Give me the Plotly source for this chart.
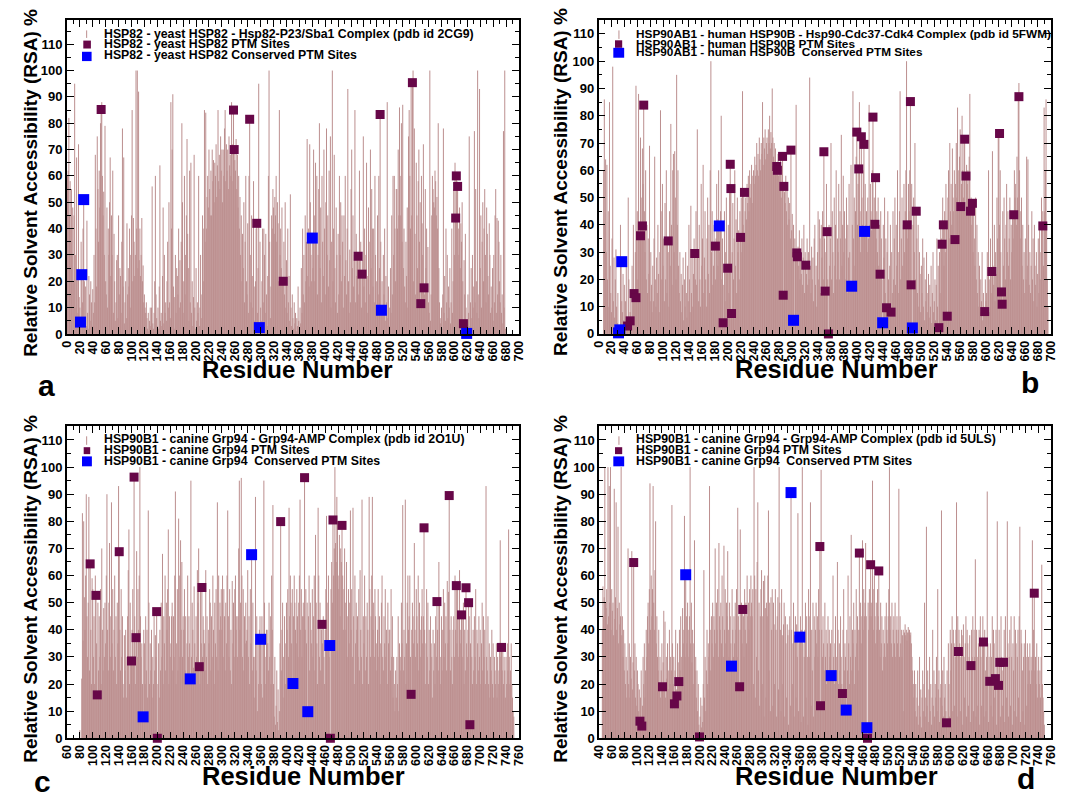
import plotly.graph_objects as go

W, H = 1077, 803
FONT = "Liberation Sans"
BAR_COLOR = "rgb(188,143,143)"
PTM_COLOR = "rgb(103,7,72)"
CONS_COLOR = "rgb(0,0,255)"

# ---------------- panel a : yeast HSP82 (2CG9) ----------------
A_START = 1
A_RSA = [
    60, 62, 82, 45, 58, 40, 55, 30, 48, 20,
    45, 95, 30, 10, 67, 22, 8, 72, 14, 10,
    5, 35, 22, 12, 40, 51, 20, 6, 18, 3,
    43, 8, 2, 22, 15, 5, 20, 12, 3, 17,
    8, 30, 12, 68, 40, 18, 75, 55, 35, 62,
    48, 80, 85, 88, 60, 45, 54, 30, 79, 20,
    15, 48, 10, 40, 30, 50, 67, 22, 45, 30,
    62, 8, 38, 20, 5, 12, 28, 30, 6, 45,
    15, 25, 22, 8, 35, 78, 18, 67, 4, 12,
    20, 6, 42, 15, 25, 18, 40, 30, 10, 45,
    85, 20, 44, 35, 22, 30, 100, 40, 100, 25,
    92, 28, 40, 22, 30, 44, 20, 26, 12, 15,
    10, 8, 12, 6, 2, 8, 1, 5, 10, 3,
    10, 56, 4, 2, 8, 20, 60, 15, 6, 3,
    10, 2, 18, 64, 5, 8, 3, 22, 48, 4,
    30, 8, 12, 5, 20, 35, 10, 50, 12, 6,
    88, 40, 70, 91, 18, 2, 14, 30, 8, 25,
    22, 15, 40, 10, 28, 12, 35, 80, 50, 8,
    20, 60, 15, 30, 45, 74, 38, 25, 5, 62,
    12, 65, 8, 20, 3, 14, 68, 10, 2, 25,
    5, 12, 8, 60, 3, 10, 30, 6, 15, 45,
    40, 20, 85, 35, 84, 40, 52, 60, 48, 70,
    55, 45, 62, 45, 70, 58, 66, 50, 65, 60,
    72, 52, 64, 85, 58, 68, 55, 75, 62, 70,
    50, 70, 60, 78, 85, 58, 72, 62, 70, 55,
    75, 64, 68, 60, 88, 72, 58, 85, 70, 66,
    62, 74, 55, 68, 48, 60, 40, 52, 30, 45,
    20, 38, 25, 50, 12, 35, 60, 20, 15, 42,
    8, 60, 81, 30, 12, 45, 22, 10, 58, 5,
    18, 20, 40, 42, 8, 25, 95, 2, 35, 10,
    5, 20, 40, 12, 40, 30, 8, 38, 15, 3,
    22, 60, 100, 35, 6, 18, 45, 40, 55, 48,
    38, 52, 45, 60, 35, 50, 42, 20, 85, 30,
    40, 25, 48, 20, 20, 35, 15, 50, 10, 28,
    8, 40, 12, 22, 5, 53, 10, 3, 15, 6,
    2, 12, 4, 8, 1, 6, 3, 18, 5, 2,
    10, 4, 25, 8, 40, 15, 30, 12, 45, 20,
    35, 74, 22, 40, 18, 72, 50, 30, 20, 36,
    25, 70, 45, 20, 65, 38, 60, 15, 30, 55,
    80, 25, 48, 12, 60, 35, 22, 70, 40, 15,
    50, 78, 30, 45, 18, 62, 28, 75, 10, 35,
    100, 20, 40, 68, 25, 12, 48, 30, 8, 38,
    15, 60, 30, 50, 20, 45, 35, 10, 45, 22,
    60, 28, 15, 40, 93, 20, 8, 32, 12, 55,
    70, 25, 45, 18, 30, 85, 12, 38, 22, 29,
    30, 15, 62, 23, 35, 10, 23, 28, 75, 18,
    40, 12, 30, 65, 22, 8, 48, 35, 15, 70,
    25, 55, 40, 18, 40, 12, 60, 30, 20, 9,
    45, 15, 60, 25, 84, 35, 9, 20, 8, 30,
    15, 40, 5, 22, 12, 88, 6, 18, 3, 10,
    25, 8, 45, 15, 60, 30, 60, 40, 20, 55,
    55, 40, 70, 45, 86, 60, 45, 80, 35, 87,
    25, 40, 18, 12, 35, 22, 48, 10, 75, 85,
    60, 40, 95, 45, 96, 100, 20, 78, 38, 15,
    65, 45, 25, 58, 70, 35, 50, 12, 60, 42,
    30, 72, 18, 15, 55, 25, 40, 18, 33, 12,
    8, 100, 5, 15, 45, 60, 55, 50, 48, 62,
    58, 45, 52, 40, 80, 25, 12, 6, 4, 10,
    2, 15, 78, 8, 22, 5, 40, 12, 30, 6,
    18, 10, 25, 4, 12, 40, 8, 20, 55, 30,
    65, 44, 60, 58, 56, 40, 30, 48, 25, 42,
    35, 50, 20, 4, 28, 15, 38, 10, 0, 5,
    15, 8, 75, 3, 12, 25, 6, 30, 10, 18,
    77, 12, 55, 20, 8, 100, 15, 6, 93, 25,
    45, 10, 35, 50, 20, 40, 55, 30, 12, 48,
    38, 22, 15, 42, 30, 8, 18, 10, 25, 5,
    30, 12, 45, 55, 8, 44, 15, 43, 35, 20,
    12, 30, 8, 15, 4, 77, 10, 100, 2, 0,
]
A_PTM_RES = [53, 258, 259, 283, 294, 335, 451, 457, 485, 535, 548, 553, 602, 603, 605, 614]
A_PTM_VAL = [85.2, 85, 70, 81.5, 42, 20, 29.5, 22.7, 83.3, 95.4, 11.5, 17.5, 44, 60, 56, 3.9]
A_CONS_RES = [21, 23, 26, 298, 380, 487, 619]
A_CONS_VAL = [4.5, 22.5, 51, 2.4, 36.4, 9, 0.2]

# ---------------- panel b : human HSP90B (5FWM) ----------------
B_START = 1
B_RSA = [
    0, 0, 0, 0, 0, 0, 0, 60, 86, 40,
    64, 30, 62, 20, 45, 10, 85, 25, 15, 8,
    35, 98, 12, 28, 6, 20, 31, 10, 4, 15,
    0, 1, 2, 40, 26, 12, 8, 22, 5, 18,
    3, 12, 28, 5, 3, 50, 20, 5, 8, 15,
    6, 25, 15, 40, 12, 13, 30, 91, 36, 45,
    20, 88, 36, 40, 72, 50, 40, 68, 55, 85,
    45, 30, 60, 20, 40, 15, 35, 22, 69, 12,
    30, 18, 8, 25, 12, 35, 65, 20, 10, 28,
    15, 40, 22, 8, 30, 82, 45, 20, 55, 25,
    35, 12, 48, 20, 60, 15, 34, 30, 10, 45,
    25, 77, 40, 18, 60, 66, 30, 67, 50, 20,
    95, 40, 60, 25, 15, 30, 12, 22, 8, 18,
    28, 5, 20, 10, 30, 15, 6, 25, 12, 40,
    20, 8, 47, 15, 30, 10, 22, 35, 29, 20,
    45, 18, 75, 30, 12, 40, 20, 10, 55, 25,
    35, 62, 15, 28, 45, 20, 10, 35, 50, 22,
    40, 15, 60, 100, 30, 45, 18, 25, 40, 32,
    20, 35, 55, 42, 25, 60, 39, 30, 45, 80,
    20, 35, 4, 18, 45, 12, 30, 50, 22, 24,
    40, 15, 55, 62, 53, 8, 30, 48, 20, 35,
    60, 25, 42, 15, 50, 30, 38, 20, 45, 35,
    50, 30, 89, 40, 52, 35, 45, 50, 42, 55,
    48, 58, 45, 60, 50, 55, 62, 48, 58, 60,
    55, 65, 58, 62, 70, 60, 66, 58, 72, 64,
    60, 70, 66, 85, 62, 72, 68, 75, 64, 70,
    72, 66, 75, 70, 80, 68, 74, 70, 90, 72,
    65, 70, 62, 68, 60, 61, 60, 66, 58, 62,
    55, 65, 50, 60, 65, 14, 54, 52, 48, 58,
    45, 55, 40, 50, 42, 48, 35, 67, 38, 44,
    30, 40, 5, 35, 28, 84, 29, 28, 32, 25,
    38, 20, 30, 22, 35, 18, 28, 40, 15, 30,
    25, 22, 35, 18, 30, 20, 94, 25, 15, 32,
    20, 28, 12, 35, 40, 18, 25, 10, 30, 45,
    20, 42, 35, 15, 40, 28, 45, 20, 67, 35,
    16, 30, 55, 38, 20, 0, 40, 25, 35, 70,
    20, 45, 30, 15, 50, 25, 40, 60, 20, 35,
    30, 55, 20, 45, 35, 73, 25, 40, 58, 30,
    45, 20, 35, 50, 15, 40, 28, 55, 30, 18,
    62, 18, 40, 89, 35, 50, 25, 45, 65, 74,
    40, 55, 61, 85, 45, 30, 72, 50, 40, 60,
    70, 38, 55, 40, 45, 30, 50, 35, 84, 40,
    55, 45, 38, 60, 80, 40, 50, 40, 57, 35,
    45, 30, 50, 25, 40, 22, 45, 35, 20, 4,
    40, 28, 50, 15, 35, 10, 30, 45, 20, 8,
    25, 40, 8, 30, 15, 45, 20, 35, 50, 18,
    40, 25, 60, 30, 15, 45, 89, 20, 35, 50,
    25, 40, 55, 30, 45, 60, 100, 40, 35, 55,
    45, 60, 85, 18, 55, 2, 40, 50, 30, 70,
    20, 45, 35, 15, 40, 10, 30, 22, 8, 25,
    15, 35, 10, 28, 5, 20, 12, 30, 8, 15,
    22, 6, 18, 10, 25, 4, 15, 30, 8, 12,
    20, 5, 18, 35, 10, 25, 2, 30, 15, 40,
    35, 33, 50, 40, 25, 45, 30, 55, 40, 7,
    50, 60, 35, 70, 45, 55, 40, 68, 50, 45,
    60, 35, 55, 70, 50, 83, 60, 45, 65, 75,
    47, 55, 80, 60, 50, 70, 71, 45, 58, 62,
    55, 60, 48, 65, 88, 45, 50, 40, 48, 30,
    45, 35, 25, 50, 20, 40, 15, 30, 10, 25,
    8, 20, 12, 30, 5, 15, 10, 8, 20, 12,
    15, 30, 10, 60, 20, 8, 35, 15, 23, 67,
    25, 18, 40, 12, 30, 22, 50, 35, 73, 73,
    40, 60, 30, 15, 11, 45, 25, 50, 35, 20,
    40, 55, 30, 45, 25, 35, 50, 20, 40, 30,
    45, 35, 44, 60, 50, 55, 40, 65, 50, 87,
    92, 60, 45, 35, 50, 25, 40, 20, 30, 15,
    35, 20, 65, 25, 64, 40, 18, 30, 15, 25,
    45, 20, 35, 12, 40, 25, 18, 30, 10, 22,
    35, 15, 40, 20, 30, 50, 40, 45, 25, 83,
    45, 60, 86, 40, 20, 10,
]
B_PTM_RES = [45, 49, 55, 58, 65, 68, 70, 108, 149, 181, 193, 200, 204, 205, 206,
             220, 226, 276, 277, 285, 286, 287, 298, 307, 308, 321, 349, 351, 354, 356,
             400, 403, 407, 411, 425, 428, 429, 436, 446, 453, 478, 483, 484, 492,
             527, 532, 534, 540, 552, 561, 567, 569, 576, 579, 598, 609, 621, 624, 625,
             643, 651, 688]
B_PTM_VAL = [2.9, 4.8, 14.8, 13.3, 36, 39.6, 83.9, 34.1, 29.5, 32.2, 4.1, 24.1, 62.2, 53.3, 7.5,
             35.4, 51.9, 61.4, 60, 65.1, 14.2, 54.1, 67.4, 29.7, 28.3, 25.2, 66.8, 15.7, 37.5, 0,
             74, 60.5, 72.3, 69.5, 79.5, 40.2, 57.3, 21.9, 9.6, 8, 40, 85.2, 18, 45,
             2.3, 32.9, 40, 6.5, 34.6, 46.7, 71.4, 57.9, 45, 47.9, 8.2, 22.9, 73.5, 15.4, 10.9,
             43.7, 87, 39.6]
B_CONS_RES = [31, 33, 36, 187, 302, 392, 412, 440, 486]
B_CONS_VAL = [0.4, 1.5, 26.5, 39.6, 5, 17.5, 37.6, 4.1, 2.2]

# ---------------- panel c : canine Grp94 (2O1U) ----------------
C_START = 80
C_RSA = [
    3, 0, 0, 22, 83, 36, 80, 52, 40, 60,
    90, 45, 30, 50, 89, 25, 64, 40, 20, 59,
    55, 30, 45, 20, 60, 53, 35, 16, 50, 25,
    45, 30, 55, 20, 70, 40, 25, 48, 30, 50,
    35, 60, 90, 40, 25, 50, 72, 30, 45, 87,
    35, 55, 25, 40, 60, 30, 45, 20, 50, 35,
    93, 69, 40, 25, 55, 30, 45, 20, 15, 38,
    25, 40, 15, 30, 45, 62, 77, 20, 50, 28,
    28, 40, 55, 30, 96, 45, 20, 37, 69, 30,
    55, 40, 60, 100, 45, 30, 35, 20, 8, 40,
    35, 20, 45, 25, 40, 15, 84, 50, 20, 35,
    25, 40, 15, 30, 20, 45, 25, 38, 30, 47,
    0, 20, 35, 15, 40, 25, 50, 30, 68, 20,
    45, 35, 60, 25, 50, 40, 55, 77, 20, 45,
    30, 35, 45, 50, 25, 45, 30, 60, 91, 20,
    35, 55, 25, 81, 60, 30, 73, 40, 65, 30,
    45, 40, 55, 25, 45, 20, 35, 60, 30, 45,
    35, 22, 95, 30, 50, 40, 26, 56, 35, 25,
    45, 30, 62, 50, 70, 26, 20, 55, 35, 56,
    30, 45, 40, 35, 25, 62, 30, 45, 20, 40,
    35, 55, 50, 25, 45, 30, 60, 40, 20, 50,
    35, 55, 30, 87, 25, 60, 40, 50, 45, 55,
    40, 60, 30, 55, 45, 25, 50, 35, 60, 84,
    45, 30, 55, 25, 40, 20, 58, 35, 50, 30,
    55, 60, 40, 45, 30, 45, 70, 95, 40, 50,
    96, 60, 30, 55, 25, 45, 35, 50, 36, 40,
    62, 30, 45, 20, 55, 35, 68, 25, 50, 30,
    15, 30, 89, 25, 45, 10, 35, 20, 40, 45,
    37, 20, 45, 15, 35, 95, 50, 30, 20, 40,
    40, 35, 25, 50, 30, 45, 20, 60, 40, 86,
    20, 8, 30, 5, 12, 25, 6, 18, 3, 10,
    35, 80, 25, 40, 50, 30, 15, 45, 20, 35,
    50, 40, 55, 30, 85, 45, 60, 50, 35, 55,
    20, 45, 60, 50, 40, 35, 55, 45, 30, 50,
    60, 88, 40, 55, 30, 45, 50, 45, 96, 40,
    55, 35, 50, 10, 45, 60, 25, 50, 40, 35,
    55, 30, 45, 60, 25, 75, 50, 35, 20, 85,
    60, 30, 50, 25, 40, 42, 35, 45, 30, 20,
    40, 55, 82, 50, 35, 60, 30, 34, 0, 55,
    65, 50, 80, 60, 70, 100, 72, 65, 89, 80,
    60, 55, 75, 45, 70, 65, 78, 60, 40, 55,
    70, 50, 40, 65, 30, 45, 55, 35, 50, 84,
    40, 55, 30, 85, 45, 20, 60, 35, 50, 40,
    45, 30, 55, 25, 62, 40, 30, 88, 20, 45,
    35, 60, 25, 45, 30, 50, 40, 20, 89, 55,
    30, 45, 60, 89, 40, 50, 30, 55, 45, 35,
    25, 40, 55, 30, 45, 20, 35, 50, 60, 30,
    25, 45, 35, 55, 30, 40, 20, 50, 35, 40,
    40, 25, 55, 30, 45, 15, 30, 20, 10, 25,
    15, 30, 20, 45, 10, 35, 25, 30, 50, 35,
    86, 25, 40, 30, 88, 20, 35, 50, 60, 40,
    45, 60, 30, 16, 40, 50, 45, 35, 72, 40,
    30, 55, 45, 35, 60, 25, 50, 40, 30, 45,
    55, 35, 45, 78, 40, 20, 35, 55, 30, 50,
    20, 40, 25, 45, 35, 30, 15, 40, 25, 35,
    20, 45, 30, 50, 40, 25, 65, 50, 20, 30,
    45, 25, 40, 55, 30, 50, 35, 45, 25, 58,
    35, 54, 90, 40, 25, 45, 30, 20, 40, 45,
    30, 60, 40, 56, 35, 55, 30, 45, 62, 40,
    35, 46, 45, 30, 50, 20, 40, 25, 56, 35,
    30, 40, 50, 45, 5, 35, 50, 30, 20, 40,
    25, 45, 30, 55, 20, 40, 35, 25, 45, 30,
    40, 20, 35, 50, 25, 45, 30, 40, 20, 93,
    30, 25, 45, 20, 35, 15, 30, 25, 40, 20,
    35, 15, 30, 25, 20, 35, 15, 30, 20, 25,
    35, 73, 30, 34, 25, 35, 20, 30, 25, 15,
    30, 20, 35, 25, 77, 30, 20, 25, 35, 20,
    15, 10, 8,
]
C_PTM_RES = [96, 105, 107, 141, 160, 164, 167, 199, 200, 265, 269, 391, 428, 455, 468,
             472, 486, 593, 613, 633, 652, 663, 671, 678, 682, 684, 733]
C_PTM_VAL = [64.3, 52.7, 16, 68.8, 28.5, 96.3, 37.1, 46.7, 0, 26.4, 55.6, 79.9, 96.1, 42, 0,
             80.5, 78.5, 16.2, 77.6, 50.4, 89.5, 56.3, 45.5, 55.5, 50, 5, 33.5]
C_CONS_RES = [178, 251, 346, 360, 410, 433, 467]
C_CONS_VAL = [7.9, 21.9, 67.7, 36.5, 20.2, 9.8, 34.2]

# ---------------- panel d : canine Grp94 (5ULS) ----------------
D_START = 45
D_RSA = [
    40, 56, 45, 52, 100, 50, 48, 55, 42, 100,
    45, 93, 50, 100, 40, 55, 47, 50, 38, 92,
    44, 52, 87, 40, 48, 78, 35, 50, 42, 45,
    100, 38, 45, 30, 40, 25, 35, 20, 30, 15,
    25, 70, 20, 35, 15, 30, 22, 69, 18, 28,
    65, 25, 35, 15, 30, 12, 25, 20, 10, 18,
    6, 15, 25, 5, 12, 30, 20, 35, 15, 25,
    40, 30, 45, 50, 35, 55, 94, 40, 60, 45,
    55, 93, 50, 40, 62, 80, 35, 45, 30, 25,
    40, 20, 30, 15, 25, 35, 19, 28, 47, 20,
    43, 15, 30, 22, 35, 18, 25, 40, 20, 30,
    25, 86, 35, 20, 30, 13, 25, 40, 18, 16,
    35, 28, 21, 40, 25, 45, 30, 20, 48, 35,
    40, 82, 30, 60, 45, 35, 50, 40, 30, 45,
    100, 35, 50, 28, 40, 20, 35, 73, 25, 30,
    15, 25, 10, 20, 5, 1, 8, 15, 4, 12,
    6, 20, 62, 15, 30, 10, 25, 40, 20, 35,
    30, 93, 40, 25, 45, 35, 50, 30, 45, 40,
    70, 35, 50, 40, 55, 30, 72, 45, 40, 50,
    35, 60, 45, 30, 71, 40, 55, 35, 50, 45,
    69, 40, 30, 50, 45, 35, 27, 55, 40, 30,
    45, 35, 50, 40, 55, 30, 85, 45, 40, 19,
    77, 40, 50, 35, 48, 45, 30, 55, 40, 50,
    35, 60, 45, 50, 40, 55, 45, 60, 50, 45,
    55, 20, 100, 60, 15, 55, 30, 65, 87, 25,
    50, 12, 45, 55, 62, 20, 45, 58, 8, 60,
    48, 15, 50, 45, 60, 84, 25, 50, 10, 52,
    40, 55, 12, 50, 42, 20, 55, 40, 8, 45,
    52, 18, 100, 50, 40, 10, 55, 38, 20, 42,
    50, 8, 45, 35, 15, 42, 38, 5, 40, 45,
    12, 91, 40, 20, 35, 50, 8, 38, 45, 15,
    42, 30, 83, 10, 35, 37, 45, 6, 40, 100,
    35, 8, 30, 40, 50, 15, 45, 30, 5, 55,
    30, 45, 87, 12, 40, 25, 50, 8, 45, 30,
    40, 50, 35, 45, 30, 55, 40, 71, 12, 99,
    40, 30, 45, 35, 25, 50, 30, 40, 20, 35,
    45, 25, 40, 30, 35, 23, 40, 25, 60, 30,
    20, 35, 45, 25, 30, 65, 40, 20, 35, 25,
    45, 30, 20, 17, 40, 55, 25, 35, 30, 10,
    40, 25, 60, 35, 20, 45, 30, 75, 25, 40,
    35, 50, 20, 40, 30, 55, 35, 45, 25, 40,
    68, 40, 50, 35, 45, 73, 40, 55, 45, 50,
    72, 45, 4, 0, 50, 40, 55, 45, 64, 50,
    45, 95, 55, 40, 60, 45, 35, 50, 40, 55,
    45, 62, 40, 30, 50, 35, 45, 25, 40, 30,
    35, 45, 30, 50, 40, 35, 45, 55, 100, 40,
    45, 35, 50, 30, 40, 45, 35, 50, 30, 40,
    45, 35, 40, 92, 30, 45, 35, 40, 30, 38,
    40, 10, 39, 42, 38, 40, 36, 39, 41, 39,
    40, 38, 39, 35, 30, 25, 20, 15, 25, 10,
    20, 8, 15, 25, 5, 12, 30, 8, 18, 4,
    15, 25, 10, 20, 50, 8, 15, 78, 12, 25,
    6, 18, 30, 10, 20, 5, 15, 40, 12, 25,
    8, 20, 15, 30, 10, 55, 18, 25, 6, 15,
    20, 84, 12, 25, 8, 30, 15, 20, 10, 6,
    25, 5, 35, 20, 8, 40, 25, 35, 45, 10,
    40, 35, 12, 30, 40, 87, 8, 45, 32, 40,
    35, 10, 30, 40, 38, 5, 42, 30, 15, 35,
    45, 8, 40, 35, 12, 30, 38, 6, 27, 40,
    30, 45, 10, 40, 30, 66, 8, 40, 30, 12,
    35, 40, 5, 45, 30, 12, 35, 45, 36, 8,
    40, 25, 10, 30, 91, 35, 6, 30, 21, 35,
    12, 30, 45, 8, 40, 35, 15, 22, 40, 5,
    80, 30, 20, 40, 28, 8, 45, 30, 12, 25,
    28, 40, 6, 45, 30, 15, 80, 35, 8, 30,
    40, 12, 45, 30, 5, 35, 25, 45, 10, 40,
    35, 8, 30, 40, 15, 45, 78, 6, 40, 35,
    25, 10, 30, 35, 5, 40, 30, 12, 35, 20,
    30, 25, 35, 20, 30, 25, 73, 30, 40, 54,
    25, 30, 20, 35, 15, 25, 30, 20, 25, 15,
    30, 64, 20, 15, 10, 5,
]
D_PTM_RES = [95, 105, 108, 141, 160, 164, 167, 200, 264, 269, 392, 393, 428, 455, 468,
             473, 486, 594, 613, 633, 653, 663, 672, 677, 679, 685, 734]
D_PTM_VAL = [64.8, 6.3, 4.5, 19, 12.7, 15.6, 20.9, 0.5, 19, 47.5, 70.7, 12, 16.5, 68.3, 0,
             64, 61.7, 5.7, 32, 26.8, 35.5, 21, 22, 19.5, 28, 28, 53.5]
D_CONS_RES = [178, 251, 346, 360, 410, 434, 467]
D_CONS_VAL = [60.3, 26.6, 90.6, 37.3, 23.1, 10.4, 3.9]

LEGENDS = {
    "a": ["HSP82 - yeast HSP82 - Hsp82-P23/Sba1 Complex (pdb id 2CG9)",
          "HSP82 - yeast HSP82 PTM Sites",
          "HSP82 - yeast HSP82 Conserved PTM Sites"],
    "b": ["HSP90AB1 - human HSP90B - Hsp90-Cdc37-Cdk4 Complex (pdb id 5FWM)",
          "HSP90AB1 - human HSP90B PTM Sites",
          "HSP90AB1 - human HSP90B \u00a0Conserved PTM Sites"],
    "c": ["HSP90B1 - canine Grp94 - Grp94-AMP Complex (pdb id 2O1U)",
          "HSP90B1 - canine Grp94 PTM Sites",
          "HSP90B1 - canine Grp94 \u00a0Conserved PTM Sites"],
    "d": ["HSP90B1 - canine Grp94 - Grp94-AMP Complex (pdb id 5ULS)",
          "HSP90B1 - canine Grp94 PTM Sites",
          "HSP90B1 - canine Grp94 \u00a0Conserved PTM Sites"],
}

# layout geometry (pixels)
PANELS = [
    dict(key="a", start=A_START, rsa=A_RSA, ptm=(A_PTM_RES, A_PTM_VAL), cons=(A_CONS_RES, A_CONS_VAL),
         box=(60.7, 518.7, 20.7, 337.3), xr=[0, 700], yr=[0, 119],
         leg=dict(line=(80.7, 30.7, 38.3), sq1=(77.3, 85, 41, 49), sq2=(76, 85.7, 52.3, 61.7),
                  tx=97, ty=[34.2, 44.8, 55.8], fs=12.3),
         ytitle=(23, 185), xtitle=(294, 373, 24), label=(40, 389)),
    dict(key="b", start=B_START, rsa=B_RSA, ptm=(B_PTM_RES, B_PTM_VAL), cons=(B_CONS_RES, B_CONS_VAL),
         box=(599.3, 1057.3, 20.5, 337.3), xr=[0, 700], yr=[0, 115],
         leg=dict(line=(620, 30.7, 39.3), sq1=(616, 623.3, 40.7, 48.3), sq2=(614.3, 625.3, 48.3, 58.3),
                  tx=636, ty=[34, 44, 52.5], fs=11.8),
         ytitle=(560, 184), xtitle=(840, 373, 25.5), label=(1036, 386)),
    dict(key="c", start=C_START, rsa=C_RSA, ptm=(C_PTM_RES, C_PTM_VAL), cons=(C_CONS_RES, C_CONS_VAL),
         box=(60.7, 518.7, 430.7, 745.7), xr=[60, 760], yr=[0, 115],
         leg=dict(line=(80.7, 440.7, 449.3), sq1=(77.7, 84.3, 451.7, 458.7), sq2=(76, 86, 461, 471),
                  tx=97, ty=[443.3, 454.2, 465.2], fs=12.3),
         ytitle=(23, 595), xtitle=(300, 784, 25.5), label=(36, 789)),
    dict(key="d", start=D_START, rsa=D_RSA, ptm=(D_PTM_RES, D_PTM_VAL), cons=(D_CONS_RES, D_CONS_VAL),
         box=(600, 1057.3, 430.7, 745.7), xr=[40, 760], yr=[0, 115],
         leg=dict(line=(620, 440.7, 449.3), sq1=(616, 623.3, 451.7, 458.7), sq2=(614.3, 625.3, 461, 471),
                  tx=636, ty=[443.3, 454.2, 465.2], fs=12.3),
         ytitle=(560, 595), xtitle=(840, 784, 25.5), label=(1032, 786)),
]


def fx(x):
    return x / W


def fy(y):
    return 1 - y / H


def impulses(start, vals):
    xs, ys = [], []
    for i, v in enumerate(vals):
        r = start + i
        xs += [r, r, None]
        ys += [0, v, None]
    return xs, ys


fig = go.Figure()
shapes, annotations = [], []
bold = dict(family=FONT, color="black", weight="bold")

for k, p in enumerate(PANELS, start=1):
    xa = "x" if k == 1 else f"x{k}"
    ya = "y" if k == 1 else f"y{k}"
    xs, ys = impulses(p["start"], p["rsa"])
    fig.add_trace(go.Scatter(x=xs, y=ys, mode="lines", xaxis=xa, yaxis=ya,
                             line=dict(color=BAR_COLOR, width=1.0), hoverinfo="skip",
                             showlegend=False))
    fig.add_trace(go.Scatter(x=p["ptm"][0], y=p["ptm"][1], mode="markers", xaxis=xa, yaxis=ya,
                             marker=dict(symbol="square", size=9, color=PTM_COLOR,
                                         line=dict(width=0)),
                             cliponaxis=False, showlegend=False, hoverinfo="skip"))
    fig.add_trace(go.Scatter(x=p["cons"][0], y=p["cons"][1], mode="markers", xaxis=xa, yaxis=ya,
                             marker=dict(symbol="square", size=11, color=CONS_COLOR,
                                         line=dict(width=0)),
                             cliponaxis=False, showlegend=False, hoverinfo="skip"))

    x0, x1, y0, y1 = p["box"]
    common = dict(ticks="inside", tickcolor="black", tickwidth=1, showline=True,
                  linecolor="black", linewidth=1.5, mirror="ticks", showgrid=False,
                  zeroline=False, fixedrange=True)
    fig.layout["xaxis" if k == 1 else f"xaxis{k}"] = dict(
        domain=[fx(x0), fx(x1)], range=p["xr"], anchor=ya,
        tickmode="linear", tick0=0, dtick=20, tickangle=-90, ticklen=7,
        minor=dict(dtick=10, ticklen=4, ticks="inside", tickcolor="black"),
        tickfont=dict(size=12.5, **bold), **common)
    fig.layout["yaxis" if k == 1 else f"yaxis{k}"] = dict(
        domain=[fy(y1), fy(y0)], range=p["yr"], anchor=xa,
        tickmode="linear", tick0=0, dtick=10, ticklen=7,
        minor=dict(dtick=5, ticklen=4, ticks="inside", tickcolor="black"),
        tickfont=dict(size=13, **bold), **common)

    lg = p["leg"]
    lx, ly0, ly1 = lg["line"]
    shapes.append(dict(type="line", xref="paper", yref="paper", x0=fx(lx), x1=fx(lx),
                       y0=fy(ly0), y1=fy(ly1), line=dict(color=BAR_COLOR, width=1)))
    for (sx0, sx1, sy0, sy1), col in ((lg["sq1"], PTM_COLOR), (lg["sq2"], CONS_COLOR)):
        shapes.append(dict(type="rect", xref="paper", yref="paper", x0=fx(sx0), x1=fx(sx1),
                           y0=fy(sy1), y1=fy(sy0), fillcolor=col, line=dict(width=0)))
    for txt, ty in zip(LEGENDS[p["key"]], lg["ty"]):
        annotations.append(dict(text=txt, xref="paper", yref="paper", x=fx(lg["tx"]), y=fy(ty),
                                xanchor="left", yanchor="middle", showarrow=False,
                                borderpad=0, font=dict(size=lg["fs"], **bold)))
    tx, tyy = p["ytitle"]
    annotations.append(dict(text="Relative Solvent Accessibility (RSA) %", xref="paper", yref="paper",
                            x=fx(tx), y=fy(tyy), xanchor="center", yanchor="middle",
                            textangle=-90, showarrow=False, font=dict(size=19, **bold)))
    xt, yt, fs = p["xtitle"]
    annotations.append(dict(text="Residue Number", xref="paper", yref="paper",
                            x=fx(xt), y=fy(yt), xanchor="center", yanchor="middle",
                            showarrow=False, font=dict(size=fs, **bold)))
    lxp, lyp = p["label"]
    annotations.append(dict(text=p["key"], xref="paper", yref="paper", x=fx(lxp), y=fy(lyp),
                            xanchor="center", yanchor="middle", showarrow=False,
                            font=dict(size=30, **bold)))

fig.update_layout(width=W, height=H, margin=dict(l=0, r=0, t=0, b=0, pad=0),
                  paper_bgcolor="white", plot_bgcolor="white", showlegend=False,
                  hovermode=False, shapes=shapes, annotations=annotations)

fig.write_html("out.html", config={"displayModeBar": False},
               post_script="document.body.style.margin='0px';document.body.style.overflow='hidden';")
